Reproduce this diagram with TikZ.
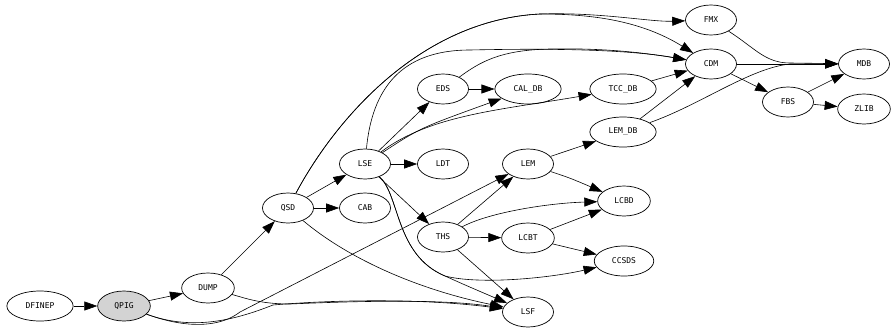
\documentclass[tikz,border=0pt]{standalone}
\usepackage{fontspec}
\setmonofont{DejaVu Sans Mono}
\usepackage{tikz}
\usetikzlibrary{shapes.geometric,arrows.meta}
\definecolor{modgray}{HTML}{D3D3D3}

\begin{document}
\begin{tikzpicture}[
  x=1pt, y=-1pt,
  every node/.style={font=\ttfamily\fontsize{8}{9}\selectfont},
  mod/.style={draw=black, ellipse, fill=white, minimum width=51pt,
              minimum height=30pt, inner xsep=9pt, inner ysep=0pt,
              line width=0.7pt},
  dep/.style={draw=black, line width=0.6pt,
              -{Triangle[length=13pt,width=9pt]}}
]
\useasboundingbox (0,0) rectangle (896,332);

%% Modules
\node[mod] (dfinep) at (40,306)  {DFINEP};
\node[mod, fill=modgray] (qpig) at (124,306) {QPIG};
\node[mod] (dump)   at (208,288) {DUMP};
\node[mod] (qsd)    at (288,208) {QSD};
\node[mod] (cab)    at (365,208) {CAB};
\node[mod] (lse)    at (365,164) {LSE};
\node[mod] (ldt)    at (443,164) {LDT};
\node[mod] (eds)    at (443,89)  {EDS};
\node[mod] (ths)    at (443,237) {THS};
\node[mod] (caldb)  at (528,89)  {CAL\_DB};
\node[mod] (lem)    at (528,164) {LEM};
\node[mod] (lcbt)   at (528,238) {LCBT};
\node[mod] (lsf)    at (528,312) {LSF};
\node[mod] (tccdb)  at (623,89)  {TCC\_DB};
\node[mod] (lemdb)  at (623,132) {LEM\_DB};
\node[mod] (lcbd)   at (624,201) {LCBD};
\node[mod] (ccsds)  at (624,261) {CCSDS};
\node[mod] (fmx)    at (711,20)  {FMX};
\node[mod] (cdm)    at (711,64)  {CDM};
\node[mod] (fbs)    at (788,102) {FBS};
\node[mod] (mdb)    at (864,64)  {MDB};
\node[mod] (zlib)   at (864,109) {ZLIB};

%% Straight dependencies
\foreach \a/\b in {dfinep/qpig, qpig/dump, dump/qsd, qsd/cab, qsd/lse,
                   lse/ldt, lse/eds, eds/caldb, lse/ths, ths/lem, ths/lcbt,
                   ths/lsf, lem/lemdb, lcbt/lcbd, lcbt/ccsds, tccdb/cdm,
                   lemdb/cdm, cdm/mdb, cdm/fbs, fbs/mdb, fbs/zlib}
  \draw[dep] (\a) -- (\b);

%% QSD long routes
\draw[dep] (qsd) .. controls (335,120) and (420,20) .. (540,14)
  .. controls (600,12) and (650,22) .. (fmx);
\draw[dep] (qsd) .. controls (335,120) and (420,20) .. (540,14)
  .. controls (590,14) and (640,20) .. (cdm);
\draw[dep] (qsd) .. controls (350,260) and (420,290) .. (lsf);

%% LSE routes
\draw[dep] (lse) .. controls (372,90) and (400,50) .. (470,50)
  .. controls (560,48) and (630,50) .. (cdm);
\draw[dep] (eds) .. controls (480,62) and (500,50) .. (550,49)
  .. controls (600,48) and (640,52) .. (cdm);
\draw[dep] (lse) .. controls (420,128) .. (caldb);
\draw[dep] (lse) .. controls (430,115) and (500,110) .. (tccdb);
\draw[dep] (lse) .. controls (400,195) and (395,255) .. (445,276)
  .. controls (480,285) and (550,278) .. (ccsds);
\draw[dep] (lse) .. controls (400,195) and (395,255) .. (445,276)
  .. controls (465,285) .. (lsf);

%% THS and LEM routes
\draw[dep] (ths) .. controls (490,212) and (550,203) .. (lcbd);
\draw[dep] (lem) .. controls (570,178) .. (lcbd);

%% QPIG and DUMP routes
\draw[dep] (qpig) .. controls (190,330) and (222,326) .. (240,312) -- (lem);
\draw[dep] (qpig) .. controls (190,330) and (230,322) .. (273,305)
  .. controls (330,300) and (420,298) .. (lsf);
\draw[dep] (dump) .. controls (245,298) and (260,304) .. (290,304)
  .. controls (380,300) and (450,300) .. (lsf);

%% Into MDB
\draw[dep] (fmx) .. controls (755,48) and (765,63) .. (790,63) -- (mdb);
\draw[dep] (lemdb) .. controls (700,105) and (750,68) .. (790,64) -- (mdb);

\end{tikzpicture}
\end{document}
